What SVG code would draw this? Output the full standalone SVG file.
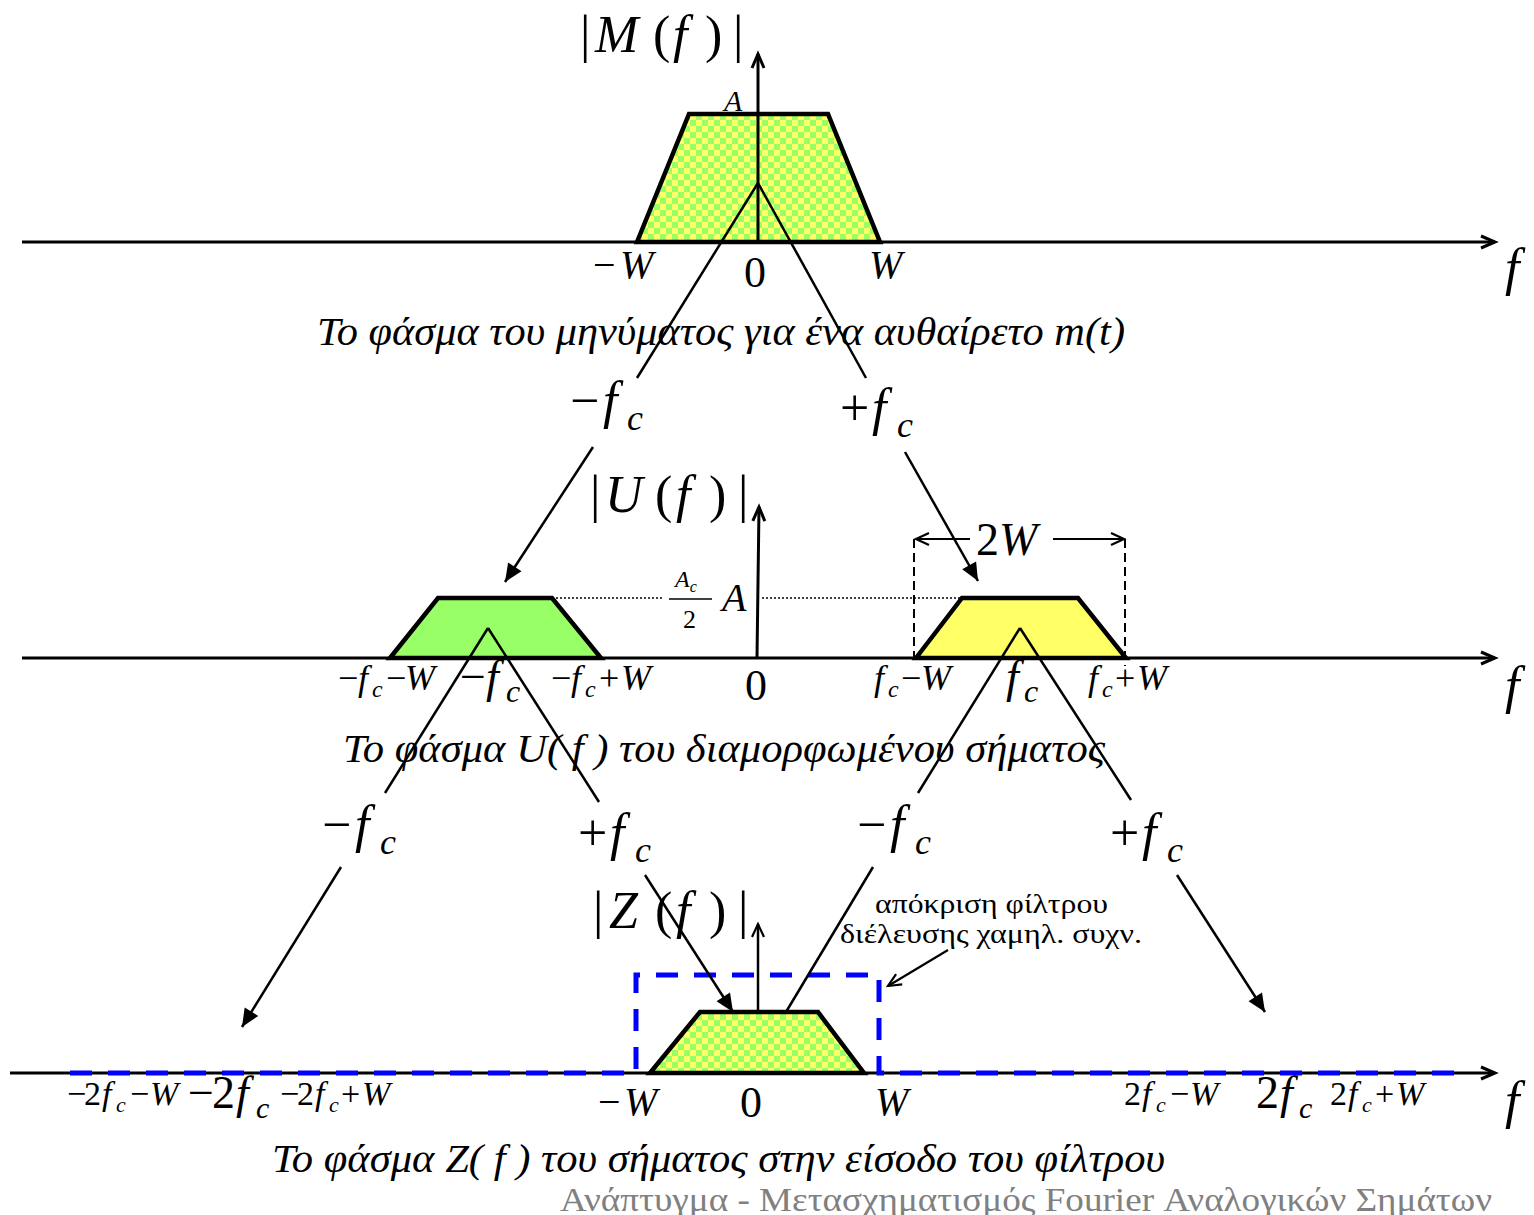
<svg xmlns="http://www.w3.org/2000/svg" width="1534" height="1215" viewBox="0 0 1534 1215">
<style>
text{font-family:"Liberation Serif","Times New Roman",serif;fill:#000}
.it{font-style:italic}
.ax{stroke:#000;stroke-width:3;fill:none}
.con{stroke:#000;stroke-width:2.5;fill:none}
.trap{stroke:#000;stroke-width:4.5;stroke-linejoin:miter}
.cap{font-style:italic;font-size:41px}
</style>
<defs>
<pattern id="chk" patternUnits="userSpaceOnUse" width="12" height="12">
<rect width="12" height="12" fill="#99FF66"/>
<rect width="6" height="6" fill="#FFFF66"/>
<rect x="6" y="6" width="6" height="6" fill="#FFFF66"/>
</pattern>
<marker id="open" markerUnits="userSpaceOnUse" markerWidth="20" markerHeight="20" refX="16" refY="8" orient="auto" overflow="visible">
<path d="M2,2 L16,8 L2,14" fill="none" stroke="#000" stroke-width="3"/>
</marker>
<marker id="openS" markerUnits="userSpaceOnUse" markerWidth="20" markerHeight="20" refX="14" refY="7" orient="auto" overflow="visible">
<path d="M1,1 L14,7 L1,13" fill="none" stroke="#000" stroke-width="2.2"/>
</marker>
<marker id="fill" markerUnits="userSpaceOnUse" markerWidth="24" markerHeight="20" refX="18" refY="8" orient="auto" overflow="visible">
<path d="M0,0 L18,8 L0,16 Z" fill="#000"/>
</marker>
</defs>

<g id="axes">
<line class="ax" x1="22" y1="242" x2="1495" y2="242" marker-end="url(#open)"/>
<line class="ax" x1="758" y1="242" x2="758" y2="54" marker-end="url(#open)"/>
<line class="ax" x1="22" y1="658" x2="1495" y2="658" marker-end="url(#open)"/>
<line class="ax" x1="757" y1="658" x2="759" y2="507" marker-end="url(#open)"/>
<line class="ax" x1="10" y1="1073" x2="1495" y2="1073" marker-end="url(#open)"/>
</g>

<g id="spectrum-m">
<polygon class="trap" points="637,242 689,114 828,114 880,242" fill="url(#chk)"/>
<line x1="637" y1="242" x2="880" y2="242" stroke="#000" stroke-width="3"/>
<line x1="758" y1="114" x2="758" y2="242" stroke="#000" stroke-width="3"/>
</g>

<g id="spectrum-u-left">
<polygon class="trap" points="390,658 438,598 552,598 601,658" fill="#99FF66"/>
<line x1="390" y1="658" x2="601" y2="658" stroke="#000" stroke-width="3"/>
</g>
<g id="spectrum-u-right">
<polygon class="trap" points="916,658 962,598 1078,598 1126,658" fill="#FFFF66"/>
<line x1="916" y1="658" x2="1126" y2="658" stroke="#000" stroke-width="3"/>
</g>

<g id="spectrum-z">
<polygon class="trap" points="650,1073 700,1012 818,1012 864,1073" fill="url(#chk)"/>
<line x1="650" y1="1073" x2="864" y2="1073" stroke="#000" stroke-width="3"/>
<line x1="758" y1="1012" x2="758" y2="924" stroke="#000" stroke-width="2.5" marker-end="url(#openS)"/>
</g>

<g id="filter">
<path d="M70,1073 H636 V975 H879 V1073 H1455" fill="none" stroke="#0000FF" stroke-width="5" stroke-dasharray="22,16"/>
</g>

<g id="dimension">
<line x1="914" y1="539" x2="914" y2="658" stroke="#000" stroke-width="2" stroke-dasharray="9,5"/>
<line x1="1125" y1="539" x2="1125" y2="666" stroke="#000" stroke-width="2" stroke-dasharray="9,5"/>
<line x1="970" y1="539" x2="916" y2="539" stroke="#000" stroke-width="2.2" marker-end="url(#openS)"/>
<line x1="1053" y1="539" x2="1124" y2="539" stroke="#000" stroke-width="2.2" marker-end="url(#openS)"/>
<text x="976" y="555" font-size="46">2<tspan class="it">W</tspan></text>
<line x1="556" y1="598" x2="662" y2="598" stroke="#000" stroke-width="1.5" stroke-dasharray="2,2"/>
<line x1="762" y1="598" x2="962" y2="598" stroke="#000" stroke-width="1.5" stroke-dasharray="2,2"/>
</g>

<g id="connectors">
<line class="con" x1="758" y1="183" x2="637" y2="378"/>
<line class="con" x1="758" y1="183" x2="866" y2="378"/>
<line class="con" x1="593" y1="447" x2="505" y2="582" marker-end="url(#fill)"/>
<line class="con" x1="905" y1="452" x2="978" y2="581" marker-end="url(#fill)"/>
<line class="con" x1="488" y1="628" x2="385" y2="793"/>
<line class="con" x1="488" y1="628" x2="599" y2="802"/>
<line class="con" x1="1020" y1="628" x2="918" y2="793"/>
<line class="con" x1="1020" y1="628" x2="1131" y2="800"/>
<line class="con" x1="341" y1="867" x2="242" y2="1027" marker-end="url(#fill)"/>
<line class="con" x1="645" y1="875" x2="733" y2="1012" marker-end="url(#fill)"/>
<line class="con" x1="873" y1="867" x2="786" y2="1012"/>
<line class="con" x1="1177" y1="875" x2="1265" y2="1012" marker-end="url(#fill)"/>
<line x1="948" y1="950" x2="888" y2="986" stroke="#000" stroke-width="2.2" marker-end="url(#openS)"/>
</g>

<g id="titles">
<text y="52" font-size="52"><tspan x="580">|</tspan><tspan x="595" class="it">M</tspan><tspan x="653">(</tspan><tspan x="673" class="it">f</tspan><tspan x="705">)</tspan><tspan x="733">|</tspan></text>
<text y="512" font-size="52"><tspan x="590">|</tspan><tspan x="605" class="it">U</tspan><tspan x="655">(</tspan><tspan x="676" class="it">f</tspan><tspan x="709">)</tspan><tspan x="738">|</tspan></text>
<text y="928" font-size="52"><tspan x="593">|</tspan><tspan x="609" class="it">Z</tspan><tspan x="655">(</tspan><tspan x="676" class="it">f</tspan><tspan x="709">)</tspan><tspan x="738">|</tspan></text>
</g>

<g id="top-labels">
<text x="724" y="111" font-size="30" class="it">A</text>
<text y="278" font-size="40"><tspan x="593">−</tspan><tspan x="620" class="it">W</tspan></text>
<text x="744" y="287" font-size="44">0</text>
<text x="869" y="278" font-size="40" class="it">W</text>
<text x="1505" y="285" font-size="52" class="it">f</text>
<text x="317" y="345" class="cap" textLength="808" lengthAdjust="spacingAndGlyphs">Το φάσμα του μηνύματος για ένα αυθαίρετο m(t)</text>
</g>

<g id="shift-labels-1">
<text font-size="52"><tspan x="570" y="418">−</tspan><tspan x="603" y="418" class="it">f</tspan><tspan x="627" y="430" font-size="36" class="it">c</tspan></text>
<text font-size="52"><tspan x="840" y="425">+</tspan><tspan x="872" y="425" class="it">f</tspan><tspan x="897" y="437" font-size="36" class="it">c</tspan></text>
</g>

<g id="middle-labels">
<text x="675" y="587" font-size="24" class="it">A<tspan font-size="16" dy="5">c</tspan></text>
<line x1="669" y1="599" x2="712" y2="599" stroke="#000" stroke-width="1.5"/>
<text x="683" y="628" font-size="26">2</text>
<text x="722" y="611" font-size="40" class="it">A</text>
<text font-size="36"><tspan x="338" y="690">−</tspan><tspan x="358" y="690" class="it">f</tspan><tspan x="372" y="697" font-size="24" class="it">c</tspan><tspan x="386" y="690">−</tspan><tspan x="405" y="690" class="it">W</tspan></text>
<text font-size="46"><tspan x="460" y="692">−</tspan><tspan x="486" y="692" class="it">f</tspan><tspan x="506" y="702" font-size="32" class="it">c</tspan></text>
<text font-size="36"><tspan x="551" y="690">−</tspan><tspan x="571" y="690" class="it">f</tspan><tspan x="585" y="697" font-size="24" class="it">c</tspan><tspan x="599" y="690">+</tspan><tspan x="621" y="690" class="it">W</tspan></text>
<text x="745" y="700" font-size="44">0</text>
<text font-size="36"><tspan x="874" y="690" class="it">f</tspan><tspan x="888" y="697" font-size="24" class="it">c</tspan><tspan x="901" y="690">−</tspan><tspan x="921" y="690" class="it">W</tspan></text>
<text font-size="46"><tspan x="1006" y="692" class="it">f</tspan><tspan x="1024" y="702" font-size="32" class="it">c</tspan></text>
<text font-size="36"><tspan x="1088" y="690" class="it">f</tspan><tspan x="1102" y="697" font-size="24" class="it">c</tspan><tspan x="1115" y="690">+</tspan><tspan x="1137" y="690" class="it">W</tspan></text>
<text x="1505" y="703" font-size="52" class="it">f</text>
<text x="343" y="762" class="cap" textLength="762" lengthAdjust="spacingAndGlyphs">Το φάσμα U( f ) του διαμορφωμένου σήματος</text>
</g>

<g id="shift-labels-2">
<text font-size="52"><tspan x="322" y="842">−</tspan><tspan x="355" y="842" class="it">f</tspan><tspan x="380" y="854" font-size="36" class="it">c</tspan></text>
<text font-size="52"><tspan x="578" y="850">+</tspan><tspan x="610" y="850" class="it">f</tspan><tspan x="635" y="862" font-size="36" class="it">c</tspan></text>
<text font-size="52"><tspan x="857" y="842">−</tspan><tspan x="890" y="842" class="it">f</tspan><tspan x="915" y="854" font-size="36" class="it">c</tspan></text>
<text font-size="52"><tspan x="1110" y="850">+</tspan><tspan x="1142" y="850" class="it">f</tspan><tspan x="1167" y="862" font-size="36" class="it">c</tspan></text>
</g>

<g id="filter-note">
<text x="875" y="913" font-size="28" textLength="233" lengthAdjust="spacingAndGlyphs">απόκριση φίλτρου</text>
<text x="840" y="943" font-size="28" textLength="302" lengthAdjust="spacingAndGlyphs">διέλευσης χαμηλ. συχν.</text>
</g>

<g id="bottom-labels">
<text font-size="34"><tspan x="67" y="1105">−</tspan><tspan x="84" y="1105">2</tspan><tspan x="102" y="1105" class="it">f</tspan><tspan x="116" y="1112" font-size="22" class="it">c</tspan><tspan x="130" y="1105">−</tspan><tspan x="150" y="1105" class="it">W</tspan></text>
<text font-size="46"><tspan x="188" y="1108">−</tspan><tspan x="212" y="1108">2</tspan><tspan x="236" y="1108" class="it">f</tspan><tspan x="256" y="1118" font-size="30" class="it">c</tspan></text>
<text font-size="34"><tspan x="280" y="1105">−</tspan><tspan x="297" y="1105">2</tspan><tspan x="315" y="1105" class="it">f</tspan><tspan x="329" y="1112" font-size="22" class="it">c</tspan><tspan x="341" y="1105">+</tspan><tspan x="362" y="1105" class="it">W</tspan></text>
<text y="1115" font-size="40"><tspan x="598">−</tspan><tspan x="624" class="it">W</tspan></text>
<text x="740" y="1117" font-size="44">0</text>
<text x="875" y="1115" font-size="40" class="it">W</text>
<text font-size="34"><tspan x="1124" y="1105">2</tspan><tspan x="1142" y="1105" class="it">f</tspan><tspan x="1156" y="1112" font-size="22" class="it">c</tspan><tspan x="1170" y="1105">−</tspan><tspan x="1190" y="1105" class="it">W</tspan></text>
<text font-size="46"><tspan x="1256" y="1108">2</tspan><tspan x="1280" y="1108" class="it">f</tspan><tspan x="1299" y="1118" font-size="30" class="it">c</tspan></text>
<text font-size="34"><tspan x="1330" y="1105">2</tspan><tspan x="1348" y="1105" class="it">f</tspan><tspan x="1362" y="1112" font-size="22" class="it">c</tspan><tspan x="1375" y="1105">+</tspan><tspan x="1396" y="1105" class="it">W</tspan></text>
<text x="1505" y="1118" font-size="52" class="it">f</text>
<text x="272" y="1172" class="cap" textLength="893" lengthAdjust="spacingAndGlyphs">Το φάσμα Z( f ) του σήματος στην είσοδο του φίλτρου</text>
</g>

<g id="footer">
<text x="560" y="1211" font-size="34" style="fill:#808080" textLength="932" lengthAdjust="spacingAndGlyphs">Ανάπτυγμα - Μετασχηματισμός Fourier Αναλογικών Σημάτων</text>
</g>
</svg>
